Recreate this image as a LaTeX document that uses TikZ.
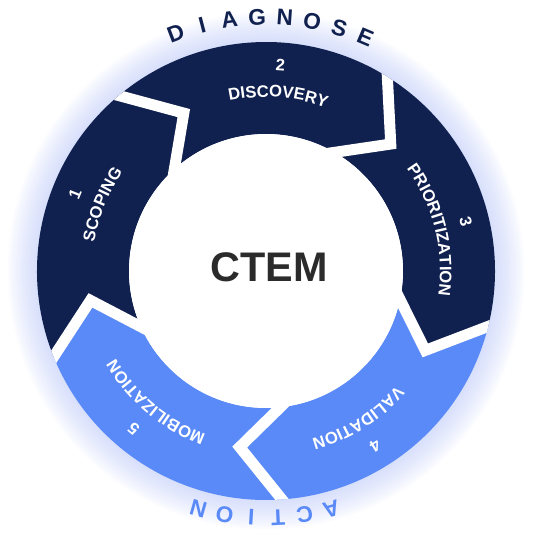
\documentclass[tikz,border=0pt]{standalone}
\usepackage{fontspec}
\setmainfont{Liberation Sans}
\usepackage{tikz}
\usetikzlibrary{calc}
\usetikzlibrary{decorations.text}
\usepackage{xcolor}

\definecolor{ctemnavy}{HTML}{10204F}
\definecolor{ctemblue}{HTML}{5A8AF8}
\definecolor{ctemglow}{HTML}{A8B8F6}
\definecolor{ctemgray}{HTML}{2B2B2B}

\newcommand\ringfont{\bfseries\fontsize{12.5}{14}\selectfont}
\newcommand\arcfont{\bfseries\fontsize{17}{20}\selectfont}

\tikzset{
  gap line/.style={white, line width=8.25pt, line join=miter},
  ring num/.style={text=white, font=\ringfont, inner sep=0.75pt},
  ring text/.style={decorate, decoration={text along path, text align=center,
      text color=white, text={|\ringfont|#1}}},
  arc letter/.style={font=\arcfont, inner sep=0.75pt},
}

\begin{document}
\begin{tikzpicture}[x=0.75pt,y=0.75pt]
%set diagram frame: 539 x 540, circle centre at (0,0)
\useasboundingbox (-266,-269) rectangle (273,271);

%Shape: Glow round the ring
\foreach \i in {1,...,30}
  \fill[ctemglow, opacity=0.02] (0,0) circle ({229+\i});

%Shape: Ring segments (outer angle of leading / trailing cut)
\foreach \a/\b/\col in {202/130/ctemnavy, 130/58/ctemnavy, 58/-14/ctemnavy,
                        -14/-86/ctemblue, -86/-158/ctemblue}
  \fill[\col] ({\a}:229) arc[start angle=\a, end angle=\b, radius=229]
    -- ({\b-12.5}:178) -- ({\b+2}:137) arc[start angle=\b+2, end angle=\a+2, radius=137]
    -- ({\a-12.5}:178) -- cycle;

%Shape: White cuts between segments
\begin{scope}
\clip (0,0) circle (229);
\foreach \b in {130,58,-14,-86,-158} {
  \coordinate (k) at ({\b-12.5}:178);
  \draw[gap line] ($(k)!1.3!({\b}:229)$) -- (k) -- ($(k)!1.3!({\b+2}:137)$);
}
\end{scope}

%Shape: Centre disc
\fill[white] (0,0) circle (137);

% Text Node
\node[font=\bfseries\fontsize{31}{36}\selectfont, text=ctemgray] (ctem) at (3,4) {CTEM};

% Text Node: step numbers and names
\foreach \ang/\num/\name in {158/1/SCOPING, 86/2/DISCOVERY, 14/3/PRIORITIZATION,
                             -58/4/VALIDATION, -130/5/MOBILIZATION} {
  \node[ring num, rotate=\ang-90] (num\num) at ({\ang}:206) {\num};
  \path[ring text/.expanded=\name] ({\ang+45}:174)
    arc[start angle=\ang+45, end angle=\ang-45, radius=174];
}

% Text Node: DIAGNOSE
\foreach \ch [count=\i] in {D,I,A,G,N,O,S,E}
  \node[arc letter, text=ctemnavy, rotate={110.8-6.26*(\i-1)-90}] (diag\i)
    at ({110.8-6.26*(\i-1)}:254) {\ch};

% Text Node: ACTION
\foreach \ch [count=\i] in {A,C,T,I,O,N}
  \node[arc letter, text=ctemblue, rotate={-74.7-6.24*(\i-1)-90}] (act\i)
    at ({-74.7-6.24*(\i-1)}:247) {\ch};

\end{tikzpicture}
\end{document}
